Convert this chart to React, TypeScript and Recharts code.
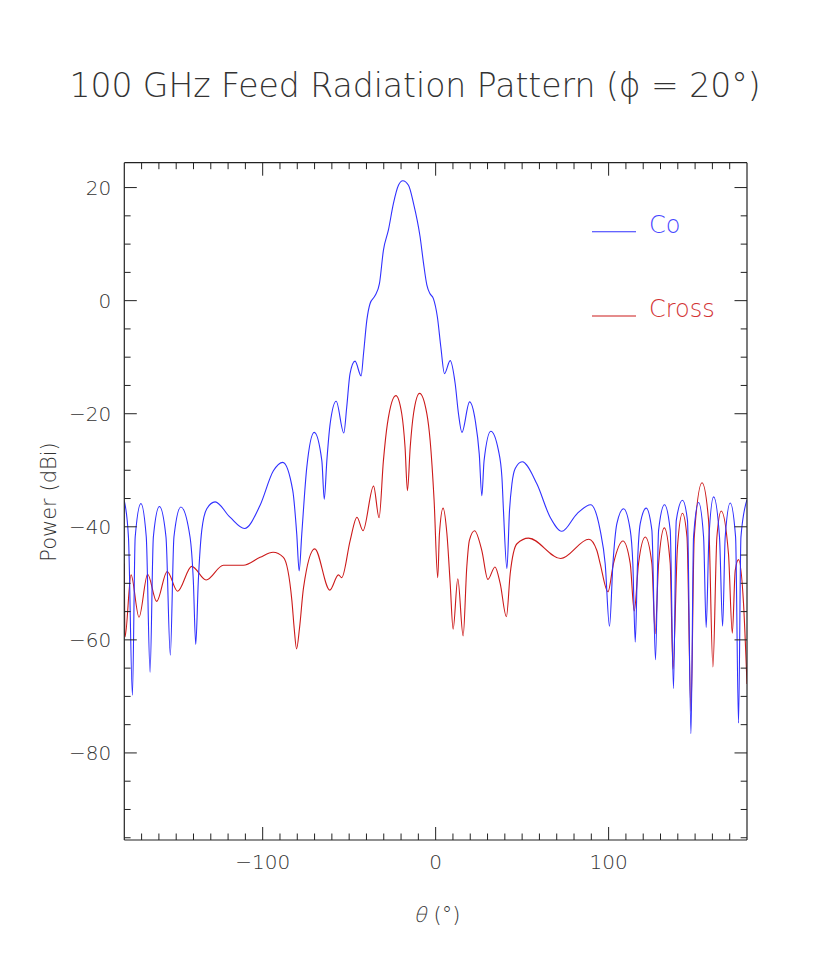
import React from 'react';
import { LineChart, Line, XAxis, YAxis } from 'recharts';

const coTheta = [-180,-177.6,-175.3,-173.7,-170.4,-167.3,-165.1,-163.2,-159.7,-155.9,-153.4,-151.3,-147.3,-142,-140.1,-138.7,-137.2,-135.2,-132.3,-127.5,-118.9,-110.5,-101.5,-93.8,-88.4,-82.6,-80.3,-78.9,-77.4,-74.5,-70.2,-65.8,-64.4,-62.9,-61,-57.5,-53.1,-51.4,-49.5,-46.6,-43.1,-41.7,-39.8,-37.9,-35,-32.5,-30.2,-27.3,-24.4,-21.5,-19,-15.7,-12.8,-9,-7,-5.1,-3.4,-1.3,1.0,3.0,5.1,8.4,11.3,13.2,15.2,19.6,22.9,25.2,26.7,28,31.9,36.3,38.3,39.2,41.2,42.7,44.1,46,50,58.5,66.2,73,81.7,89.6,95.1,98,100.5,102.5,104.8,108.6,112.5,114,115.4,116.7,118.3,121.7,125,127.1,128.9,132.3,135.6,137.5,139.1,142.7,145.6,147.6,149.1,152,154.9,156.4,158,160.7,164.1,165.9,167.4,170.3,173.4,175.1,176.5,180];
const coPower = [-35.4,-41.8,-69.8,-41.8,-35.9,-41.8,-65.7,-41.8,-36.4,-41.8,-62.7,-41.8,-36.5,-41.8,-49.5,-60.8,-49.5,-40.6,-36.8,-35.6,-38.3,-40.3,-36.2,-30.1,-28.6,-33.6,-41.3,-47.8,-41.3,-29.5,-23.3,-28.3,-35.1,-28.3,-21.8,-17.8,-23.4,-18.8,-12.9,-10.7,-13.3,-9.4,-3.5,-0.5,0.9,3.0,8.9,12.5,17.2,20.4,21.2,20.4,17.2,11.3,6.6,2.8,1.3,0.35,-2.9,-8.2,-12.9,-10.6,-14.7,-20,-23.3,-17.9,-21.2,-27.1,-34.5,-28.3,-23.1,-26.5,-31.2,-37.1,-47.4,-37.1,-32.4,-29.7,-28.5,-32.4,-38.3,-40.8,-37.7,-36.1,-40.6,-46.5,-57.6,-46.5,-39.4,-36.8,-40.6,-46.5,-60.4,-46.5,-39.4,-36.7,-40.6,-63.5,-40.6,-36.1,-40.6,-68.6,-38.9,-35.3,-38.9,-76.6,-41.8,-35.7,-41.8,-57.8,-41.8,-34.7,-41.8,-57.6,-41.8,-35.8,-41.8,-74.7,-41.8,-35.2];

const crossTheta = [-180,-179.6,-176.1,-171.5,-166.5,-161.3,-155.2,-149.2,-141,-132.7,-122.7,-111.2,-101.5,-94,-88,-83.1,-81.8,-80.4,-78.7,-76.4,-69.9,-61.2,-56.2,-54.3,-49.4,-45.5,-42,-35.9,-32.7,-30.2,-27.9,-23,-19.6,-17.7,-16.3,-14.7,-12.8,-9.3,-5.1,-3.2,-0.9,1.2,2.2,4.3,6.5,8.4,10.1,12.8,15.9,18,19.5,22.5,26.7,30.2,34.3,37.3,40.9,43.1,47,53.7,72.3,88.6,93.2,95.1,99.6,102.8,108.3,112.5,114.8,117.3,121.2,125,126.9,128.9,132.2,135.6,137.2,139.8,142.7,145.3,147.6,149.5,154,157.8,160.3,162.6,165.1,169.3,171.5,173.2,175.1,178,180];
const crossPower = [-46.5,-59.5,-48.5,-56,-48.4,-53.2,-47.9,-51.4,-47,-49.4,-46.8,-46.8,-45.4,-44.5,-45.4,-53.1,-57.9,-61.6,-57.9,-50.8,-43.9,-51.2,-48.5,-49,-42.4,-38.3,-40.7,-32.8,-38.4,-28.3,-21.8,-16.8,-20,-25.9,-33.6,-25.9,-20,-16.4,-20,-24.7,-35.3,-49,-41.2,-36.7,-41.2,-50,-58.1,-49.2,-59.3,-47.1,-42.4,-40.7,-44.2,-49.3,-47.1,-50,-55.9,-48.3,-43,-42,-45.6,-42.2,-44.2,-46.5,-51.5,-46.5,-42.5,-46.5,-54.9,-46.5,-41.8,-46.5,-58.9,-46.5,-40.2,-46.5,-65.2,-43.6,-37.6,-41.8,-72.6,-41.8,-32.2,-38.9,-64.8,-41.8,-37.2,-44.8,-58.8,-47.7,-45.8,-53.6,-67.8];

const xTicks = Array.from({ length: 35 }, (_, i) => -170 + i * 10);
const yTicks = Array.from({ length: 24 }, (_, i) => -95 + i * 5);
const xMajor = [-100, 0, 100];
const yMajor = [20, 0, -20, -40, -60, -80];

const coData = coTheta.map((t, i) => ({ theta: t, co: coPower[i] }));
const crossData = crossTheta.map((t, i) => ({ theta: t, cross: crossPower[i] }));

const legendItems = [
  { name: 'Co', color: '#3030ff', text: '#4646ff' },
  { name: 'Cross', color: '#cc1a1a', text: '#d23232' },
];

const FONT = '"DejaVu Sans", sans-serif';
const AX = '#222';
const TXT = '#333';

const fmt = (v: number) => (v < 0 ? '\u2212' + Math.abs(v) : String(v));

const BottomTick = (p: any) => {
  const v = p.payload.value;
  const major = xMajor.includes(v);
  return (
    <g>
      <line x1={p.x} y1={p.y} x2={p.x} y2={p.y - (major ? 13 : 6.5)} stroke={AX} strokeWidth={1} />
      {major && (
        <text x={p.x} y={p.y + 29} textAnchor="middle" fontFamily={FONT} fontWeight={200} fontSize={20} fill={TXT}>
          {fmt(v)}
        </text>
      )}
    </g>
  );
};
const TopTick = (p: any) => {
  const major = xMajor.includes(p.payload.value);
  return <line x1={p.x} y1={p.y} x2={p.x} y2={p.y + (major ? 13 : 6.5)} stroke={AX} strokeWidth={1} />;
};
const LeftTick = (p: any) => {
  const v = p.payload.value;
  const major = yMajor.includes(v);
  return (
    <g>
      <line x1={p.x} y1={p.y} x2={p.x + (major ? 12.5 : 6.3)} y2={p.y} stroke={AX} strokeWidth={1} />
      {major && (
        <text x={p.x - 13} y={p.y + 7} textAnchor="end" fontFamily={FONT} fontWeight={200} fontSize={20} fill={TXT}>
          {fmt(v)}
        </text>
      )}
    </g>
  );
};
const RightTick = (p: any) => {
  const major = yMajor.includes(p.payload.value);
  return <line x1={p.x} y1={p.y} x2={p.x - (major ? 12.5 : 6.3)} y2={p.y} stroke={AX} strokeWidth={1} />;
};

export default function App() {
  const W = 822;
  const H = 951;
  return (
    <div style={{ position: 'relative', width: W, height: H }}>
      <LineChart width={W} height={H} margin={{ top: 153.7, right: 82, bottom: 118, left: 115.3 }}>
        <XAxis xAxisId="b" dataKey="theta" type="number" domain={[-180, 180]} ticks={xTicks} interval={0}
          orientation="bottom" height={1} tickSize={0} tickMargin={0} tickLine={false}
          axisLine={{ stroke: AX, strokeWidth: 1.2 }} tick={<BottomTick />} allowDataOverflow />
        <XAxis xAxisId="t" dataKey="theta" type="number" domain={[-180, 180]} ticks={xTicks} interval={0}
          orientation="top" height={1} tickSize={0} tickMargin={0} tickLine={false}
          axisLine={{ stroke: AX, strokeWidth: 1.2 }} tick={<TopTick />} allowDataOverflow />
        <YAxis yAxisId="l" type="number" domain={[-95.4, 24.4]} ticks={yTicks} interval={0}
          orientation="left" width={1} tickSize={0} tickMargin={0} tickLine={false}
          axisLine={{ stroke: AX, strokeWidth: 1.2 }} tick={<LeftTick />} allowDataOverflow />
        <YAxis yAxisId="r" type="number" domain={[-95.4, 24.4]} ticks={yTicks} interval={0}
          orientation="right" width={1} tickSize={0} tickMargin={0} tickLine={false}
          axisLine={{ stroke: AX, strokeWidth: 1.2 }} tick={<RightTick />} allowDataOverflow />
        <Line xAxisId="b" yAxisId="l" data={crossData} dataKey="cross" type="monotone" stroke={legendItems[1].color}
          strokeWidth={1.1} dot={false} isAnimationActive={false} />
        <Line xAxisId="b" yAxisId="l" data={coData} dataKey="co" type="monotone" stroke={legendItems[0].color}
          strokeWidth={1.1} dot={false} isAnimationActive={false} />
      </LineChart>
      <svg width={W} height={H} style={{ position: 'absolute', left: 0, top: 0, pointerEvents: 'none' }}>
        <text x={407} y={89} textAnchor="middle" fontFamily={FONT} fontWeight={200} fontSize={33} fill={TXT}>
          100 GHz Feed Radiation Pattern (ϕ = 20°)
        </text>
        <text transform="translate(48,494) rotate(-90)" textAnchor="middle" fontFamily={FONT} fontWeight={200} fontSize={21} fill={TXT}>
          Power (dBi)
        </text>
        <text transform="translate(412,914) skewX(-14)" textAnchor="middle" fontFamily={FONT} fontWeight={200} fontSize={21} fill={TXT}>
          θ
        </text>
        <text x={439} y={914} textAnchor="middle" fontFamily={FONT} fontWeight={200} fontSize={21} fill={TXT}>
          (°)
        </text>
        {legendItems.map((it, i) => (
          <g key={it.name}>
            <line x1={584} x2={628} y1={223.7 + i * 84.3} y2={223.7 + i * 84.3} stroke={it.color} strokeWidth={1.1} />
            <text x={641} y={225.3 + i * 84} fontFamily={FONT} fontWeight={200} fontSize={24} fill={it.text}>
              {it.name}
            </text>
          </g>
        ))}
      </svg>
    </div>
  );
}
